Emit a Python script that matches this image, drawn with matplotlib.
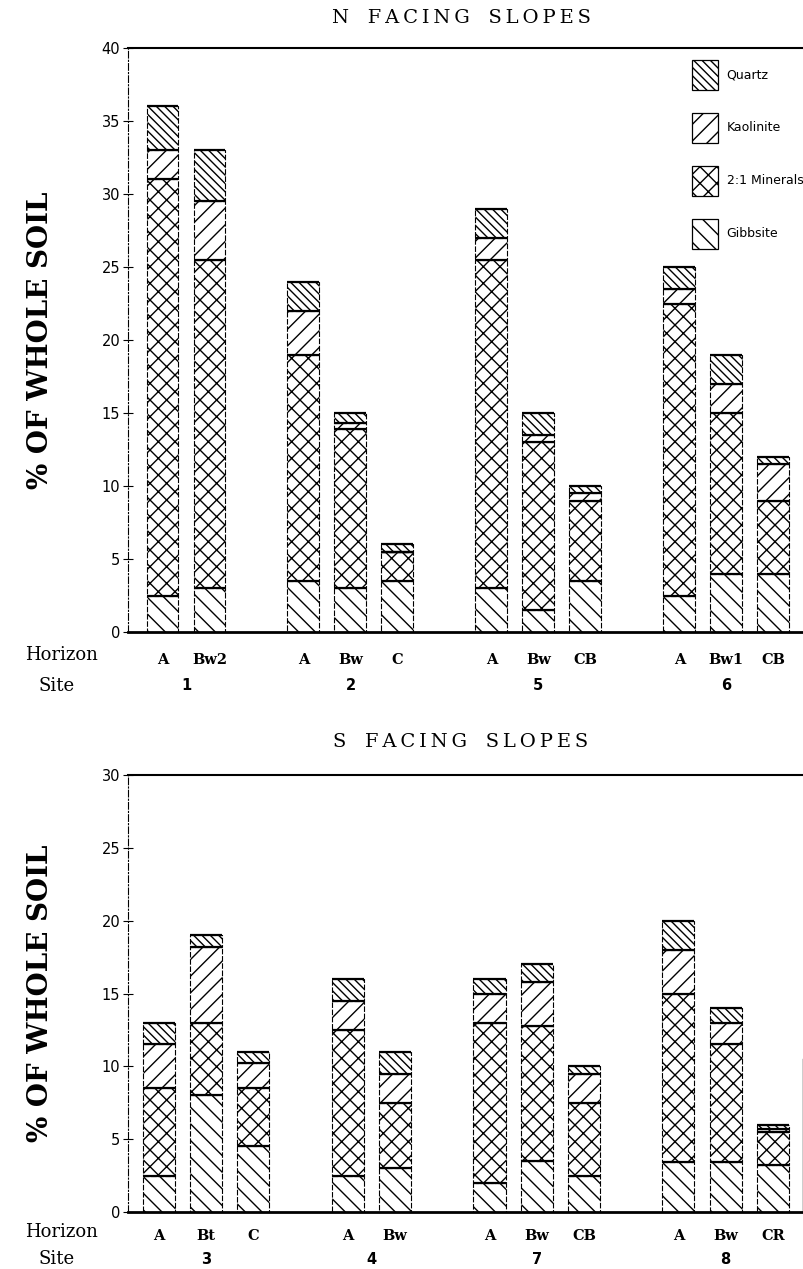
import numpy as np
import matplotlib
matplotlib.use("Agg")
import matplotlib.pyplot as plt
from matplotlib.patches import Patch
from matplotlib.transforms import blended_transform_factory

plt.rcParams['hatch.linewidth'] = 1.0
plt.rcParams['font.family'] = ['DejaVu Sans']

# Data, % of whole soil per mineral
components = ['Gibbsite', '2:1 Minerals', 'Kaolinite', 'Quartz']
hatches = ['\\\\', 'xx', '//', '\\\\\\\\']
legend_order = ['Quartz', 'Kaolinite', '2:1 Minerals', 'Gibbsite']

# N facing slopes
n_horizons = ['A', 'Bw2', 'A', 'Bw', 'C', 'A', 'Bw', 'CB', 'A', 'Bw1', 'CB']
n_slots = [0, 1, 3, 4, 5, 7, 8, 9, 11, 12, 13]
n_sites = ['1', '2', '5', '6']
n_site_pos = [0.5, 4, 8, 12]
n_gibbsite = [2.5, 3.0, 3.5, 3.0, 3.5, 3.0, 1.5, 3.5, 2.5, 4.0, 4.0]
n_clay21 = [28.5, 22.5, 15.5, 10.9, 2.0, 22.5, 11.5, 5.5, 20.0, 11.0, 5.0]
n_kaolinite = [2.0, 4.0, 3.0, 0.4, 0.0, 1.5, 0.5, 0.5, 1.0, 2.0, 2.5]
n_quartz = [3.0, 3.5, 2.0, 0.7, 0.5, 2.0, 1.5, 0.5, 1.5, 2.0, 0.5]

# S facing slopes
s_horizons = ['A', 'Bt', 'C', 'A', 'Bw', 'A', 'Bw', 'CB', 'A', 'Bw', 'CR']
s_slots = [0, 1, 2, 4, 5, 7, 8, 9, 11, 12, 13]
s_sites = ['3', '4', '7', '8']
s_site_pos = [1, 4.5, 8, 12]
s_gibbsite = [2.5, 8.0, 4.5, 2.5, 3.0, 2.0, 3.5, 2.5, 3.4, 3.4, 3.2]
s_clay21 = [6.0, 5.0, 4.0, 10.0, 4.5, 11.0, 9.3, 5.0, 11.6, 8.1, 2.3]
s_kaolinite = [3.0, 5.2, 1.7, 2.0, 2.0, 2.0, 3.0, 2.0, 3.0, 1.5, 0.2]
s_quartz = [1.5, 0.8, 0.8, 1.5, 1.5, 1.0, 1.2, 0.5, 2.0, 1.0, 0.3]

W, H = 804, 1269
fig = plt.figure(figsize=(W / 100, H / 100), dpi=100)


def px_axes(left, top, right, bottom):
    return fig.add_axes([left / W, 1 - bottom / H, (right - left) / W, (bottom - top) / H])


def spaced(txt):
    # loose letter spacing like the original typewriter-style titles
    return '   '.join('\u2009'.join(word) for word in txt.split(' '))


ax_n = px_axes(128, 48, 803, 632)
ax_s = px_axes(128, 775, 803, 1212)


def draw_panel(ax, slots, horizons, layers, ymax, xlim, sites, site_pos, title, ys, pad):
    width = 0.68
    bottom = np.zeros(len(slots))
    for vals, hatch in zip(layers, hatches):
        vals = np.array(vals)
        ax.bar(slots, vals, width, bottom=bottom, facecolor='white', edgecolor='black',
               hatch=hatch, linewidth=0.8, linestyle=(0, (5, 1.5)))
        bottom = bottom + vals
        ax.hlines(bottom, np.array(slots) - width / 2, np.array(slots) + width / 2,
                  color='black', linewidth=1.6)
    ax.set_xlim(*xlim)
    ax.set_ylim(0, ymax)
    ax.set_yticks(np.arange(0, ymax + 1, 5))
    ax.tick_params(axis='y', direction='inout', length=7, width=0.8, labelsize=10.5, pad=2)
    ax.set_xticks(slots)
    ax.set_xticklabels(horizons, family='DejaVu Serif', fontweight='bold', fontsize=10.5)
    ax.tick_params(axis='x', length=0, pad=pad)
    ax.spines['right'].set_visible(False)
    ax.spines['top'].set_linewidth(1.5)
    ax.spines['bottom'].set_linewidth(2.0)
    ax.spines['left'].set_linewidth(0.8)
    ax.spines['left'].set_linestyle((0, (6, 2, 1, 2)))
    ax.set_ylabel('% OF WHOLE SOIL', family='DejaVu Serif', fontweight='bold', fontsize=20)
    ax.yaxis.set_label_coords((54 - 128) / 675, 0.5)
    site_y = 1 - ys[1] / H
    tr = blended_transform_factory(ax.transData, fig.transFigure)
    for s, p in zip(sites, site_pos):
        ax.text(p, site_y, s, transform=tr, ha='center', va='center',
                fontsize=10.5, fontweight='bold')
    fig.text(61 / W, 1 - ys[0] / H, 'Horizon', family='DejaVu Serif', fontsize=13,
             ha='center', va='center')
    fig.text(57 / W, 1 - ys[1] / H, 'Site', family='DejaVu Serif', fontsize=13,
             ha='center', va='center')
    fig.text(461 / W, 1 - ys[2] / H, spaced(title), family='DejaVu Serif', fontsize=14,
             ha='center', va='center')


draw_panel(ax_n, n_slots, n_horizons, [n_gibbsite, n_clay21, n_kaolinite, n_quartz], 40,
           (-0.734, 13.63), n_sites, n_site_pos, 'N FACING SLOPES', (655, 686, 18), 15)
draw_panel(ax_s, s_slots, s_horizons, [s_gibbsite, s_clay21, s_kaolinite, s_quartz], 30,
           (-0.657, 13.64), s_sites, s_site_pos, 'S FACING SLOPES', (1232, 1259, 742), 12)

# partial right edge in the lower panel
ax_s.spines['right'].set_visible(True)
ax_s.spines['right'].set_bounds(0, 10.5)
ax_s.spines['right'].set_linewidth(1.0)

handles = [Patch(facecolor='white', edgecolor='black', hatch=hatches[components.index(c)],
                 linewidth=0.9) for c in legend_order]
ax_n.legend(handles, legend_order, loc='upper left', bbox_to_anchor=(0.835, 0.98),
            borderpad=0, borderaxespad=0, frameon=False, handlelength=2.1,
            handleheight=3.3, labelspacing=1.85, handletextpad=0.7, fontsize=9)

fig.savefig('out.png', dpi=100)
